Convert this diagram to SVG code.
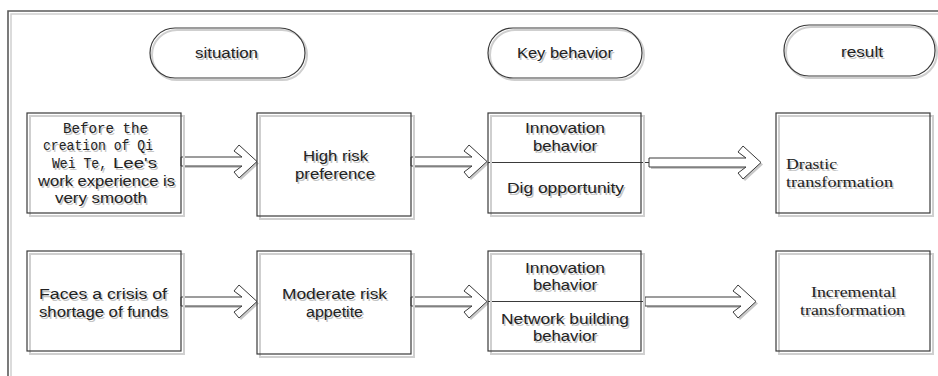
<svg xmlns="http://www.w3.org/2000/svg" xmlns:xlink="http://www.w3.org/1999/xlink" width="938" height="376" viewBox="0 0 938 376">
<style>
.bg{fill:#ffffff}
.frame{fill:none;stroke:#5a5a5a;stroke-width:1.6}
.frameS{fill:none;stroke:#d0d0d0;stroke-width:1.5}
.box{fill:none;stroke:#3a3a3a;stroke-width:1.2}
.boxS{fill:none;stroke:#cfcfcf;stroke-width:2}
.arr{fill:#ffffff;stroke:#3a3a3a;stroke-width:1}
.arrS{fill:#c8c8c8;stroke:none}
.div{stroke:#3a3a3a;stroke-width:1;fill:none}
.sans{font-family:"Liberation Sans","Open Sans",Arial,sans-serif;font-size:14px}
.mono{font-family:"Liberation Mono","DejaVu Sans Mono",monospace;font-size:14.5px}
.serif{font-family:"Liberation Serif","Times New Roman",serif;font-size:15px}
</style>
<rect class="bg" x="0" y="0" width="938" height="376"/>
<g id="frame">
  <path class="frameS" d="M11,376 V14 H938"/>
  <path class="frame" d="M8,376 V11 H938"/>
</g>

<g id="connectors">
  <g id="a1"><path class="arrS" transform="translate(2,2)" d="M181,157 H242 L234,151 L239,145 L257,161.5 L239,178 L234,172 L242,166 H181 Z"/><path class="arr" d="M181,157 H242 L234,151 L239,145 L257,161.5 L239,178 L234,172 L242,166 H181 Z"/></g>
  <g id="a2"><path class="arrS" transform="translate(2,2)" d="M411,157 H472 L464,151 L469,145 L487,161.5 L469,178 L464,172 L472,166 H411 Z"/><path class="arr" d="M411,157 H472 L464,151 L469,145 L487,161.5 L469,178 L464,172 L472,166 H411 Z"/></g>
  <path class="div" d="M488,162.5 H649"/>
  <g id="a3"><path class="arrS" transform="translate(2,2)" d="M649,158 H746 L738,152 L743,146 L761,162.5 L743,179 L738,173 L746,167 H649 Z"/><path class="arr" d="M649,158 H746 L738,152 L743,146 L761,162.5 L743,179 L738,173 L746,167 H649 Z"/></g>
  <g id="a4"><path class="arrS" transform="translate(2,2)" d="M181,297 H242 L234,291 L239,285 L257,301.5 L239,318 L234,312 L242,306 H181 Z"/><path class="arr" d="M181,297 H242 L234,291 L239,285 L257,301.5 L239,318 L234,312 L242,306 H181 Z"/></g>
  <g id="a5"><path class="arrS" transform="translate(2,2)" d="M411,297 H472 L464,291 L469,285 L487,301.5 L469,318 L464,312 L472,306 H411 Z"/><path class="arr" d="M411,297 H472 L464,291 L469,285 L487,301.5 L469,318 L464,312 L472,306 H411 Z"/></g>
  <path class="div" d="M488,301.5 H645"/>
  <g id="a6"><path class="arrS" transform="translate(2,2)" d="M645,297 H741 L733,291 L738,285 L756,301.5 L738,318 L733,312 L741,306 H645 Z"/><path class="arr" d="M645,297 H741 L733,291 L738,285 L756,301.5 L738,318 L733,312 L741,306 H645 Z"/></g>
</g>

<g id="h-situation">
  <rect class="boxS" x="152" y="30" width="155" height="50" rx="25"/>
  <rect class="box" x="150" y="28" width="155" height="50" rx="25"/>
  <use xlink:href="#t-situation" transform="translate(1.5,1.5)" fill="#c4c4c4"/>
  <g fill="#222222"><g id="t-situation"><text class="sans" x="195" y="58" textLength="63" lengthAdjust="spacingAndGlyphs">situation</text></g></g>
</g>
<g id="h-key">
  <rect class="boxS" x="490" y="30" width="154" height="50" rx="25"/>
  <rect class="box" x="488" y="28" width="154" height="50" rx="25"/>
  <use xlink:href="#t-key" transform="translate(1.5,1.5)" fill="#c4c4c4"/>
  <g fill="#222222"><g id="t-key"><text class="sans" x="517" y="58" textLength="96" lengthAdjust="spacingAndGlyphs">Key behavior</text></g></g>
</g>
<g id="h-result">
  <rect class="boxS" x="786" y="27" width="151" height="51" rx="25"/>
  <rect class="box" x="784" y="25" width="151" height="51" rx="25"/>
  <use xlink:href="#t-result" transform="translate(1.5,1.5)" fill="#c4c4c4"/>
  <g fill="#222222"><g id="t-result"><text class="sans" x="841" y="57" textLength="42" lengthAdjust="spacingAndGlyphs">result</text></g></g>
</g>

<g id="n-before">
  <rect class="boxS" x="30" y="116" width="154" height="100"/>
  <rect class="box" x="27" y="113" width="154" height="100"/>
  <use xlink:href="#t-before" transform="translate(1.5,1.5)" fill="#c4c4c4"/>
  <g fill="#222222"><g id="t-before">
    <text class="mono" x="63" y="133" textLength="85" lengthAdjust="spacingAndGlyphs">Before the</text>
    <text class="mono" x="43" y="150" textLength="110" lengthAdjust="spacingAndGlyphs">creation of Qi</text>
    <text class="mono" x="52" y="168" textLength="55" lengthAdjust="spacingAndGlyphs">Wei Te,</text>
    <text class="sans" x="113" y="168" textLength="44" lengthAdjust="spacingAndGlyphs">Lee's</text>
    <text class="sans" x="38" y="186" textLength="137" lengthAdjust="spacingAndGlyphs">work experience is</text>
    <text class="sans" x="55" y="203" textLength="92" lengthAdjust="spacingAndGlyphs">very smooth</text>
  </g></g>
</g>
<g id="n-high">
  <rect class="boxS" x="260" y="116" width="154" height="103"/>
  <rect class="box" x="257" y="113" width="154" height="103"/>
  <use xlink:href="#t-high" transform="translate(1.5,1.5)" fill="#c4c4c4"/>
  <g fill="#222222"><g id="t-high">
    <text class="sans" x="303" y="161" textLength="65" lengthAdjust="spacingAndGlyphs">High risk</text>
    <text class="sans" x="295" y="179" textLength="80" lengthAdjust="spacingAndGlyphs">preference</text>
  </g></g>
</g>
<g id="n-kb1">
  <rect class="boxS" x="491" y="116" width="153" height="100"/>
  <rect class="box" x="488" y="113" width="153" height="100"/>
  <use xlink:href="#t-kb1" transform="translate(1.5,1.5)" fill="#c4c4c4"/>
  <g fill="#222222"><g id="t-kb1">
    <text class="sans" x="525" y="133" textLength="80" lengthAdjust="spacingAndGlyphs">Innovation</text>
    <text class="sans" x="533" y="151" textLength="64" lengthAdjust="spacingAndGlyphs">behavior</text>
    <text class="sans" x="507" y="193" textLength="117" lengthAdjust="spacingAndGlyphs">Dig opportunity</text>
  </g></g>
</g>
<g id="n-drastic">
  <rect class="boxS" x="779" y="116" width="154" height="100"/>
  <rect class="box" x="776" y="113" width="154" height="100"/>
  <use xlink:href="#t-drastic" transform="translate(1.5,1.5)" fill="#c4c4c4"/>
  <g fill="#222222"><g id="t-drastic">
    <text class="serif" x="786" y="169" textLength="51" lengthAdjust="spacingAndGlyphs">Drastic</text>
    <text class="serif" x="786" y="187" textLength="107" lengthAdjust="spacingAndGlyphs">transformation</text>
  </g></g>
</g>

<g id="n-faces">
  <rect class="boxS" x="30" y="254" width="154" height="100"/>
  <rect class="box" x="27" y="251" width="154" height="100"/>
  <use xlink:href="#t-faces" transform="translate(1.5,1.5)" fill="#c4c4c4"/>
  <g fill="#222222"><g id="t-faces">
    <text class="sans" x="39" y="299" textLength="128" lengthAdjust="spacingAndGlyphs">Faces a crisis of</text>
    <text class="sans" x="39" y="317" textLength="129" lengthAdjust="spacingAndGlyphs">shortage of funds</text>
  </g></g>
</g>
<g id="n-moderate">
  <rect class="boxS" x="260" y="254" width="154" height="103"/>
  <rect class="box" x="257" y="251" width="154" height="103"/>
  <use xlink:href="#t-moderate" transform="translate(1.5,1.5)" fill="#c4c4c4"/>
  <g fill="#222222"><g id="t-moderate">
    <text class="sans" x="282" y="299" textLength="105" lengthAdjust="spacingAndGlyphs">Moderate risk</text>
    <text class="sans" x="306" y="317" textLength="57" lengthAdjust="spacingAndGlyphs">appetite</text>
  </g></g>
</g>
<g id="n-kb2">
  <rect class="boxS" x="491" y="254" width="153" height="100"/>
  <rect class="box" x="488" y="251" width="153" height="100"/>
  <use xlink:href="#t-kb2" transform="translate(1.5,1.5)" fill="#c4c4c4"/>
  <g fill="#222222"><g id="t-kb2">
    <text class="sans" x="525" y="273" textLength="80" lengthAdjust="spacingAndGlyphs">Innovation</text>
    <text class="sans" x="533" y="290" textLength="64" lengthAdjust="spacingAndGlyphs">behavior</text>
    <text class="sans" x="501" y="324" textLength="128" lengthAdjust="spacingAndGlyphs">Network building</text>
    <text class="sans" x="533" y="341" textLength="64" lengthAdjust="spacingAndGlyphs">behavior</text>
  </g></g>
</g>
<g id="n-incremental">
  <rect class="boxS" x="779" y="254" width="154" height="100"/>
  <rect class="box" x="776" y="251" width="154" height="100"/>
  <use xlink:href="#t-incremental" transform="translate(1.5,1.5)" fill="#c4c4c4"/>
  <g fill="#222222"><g id="t-incremental">
    <text class="serif" x="811" y="297" textLength="85" lengthAdjust="spacingAndGlyphs">Incremental</text>
    <text class="serif" x="800" y="315" textLength="105" lengthAdjust="spacingAndGlyphs">transformation</text>
  </g></g>
</g>
</svg>
